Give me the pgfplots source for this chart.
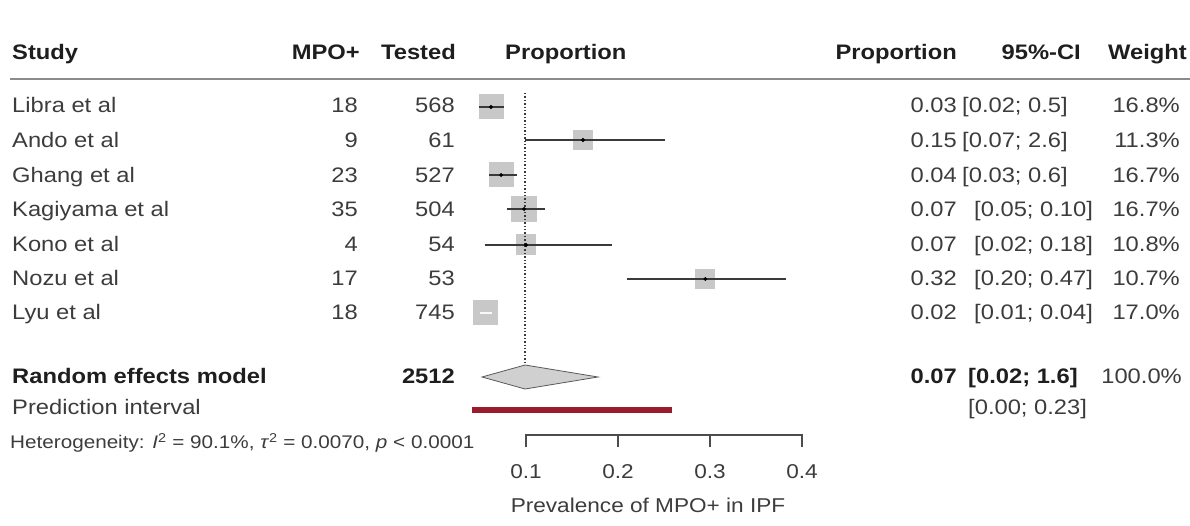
\documentclass[border=0pt]{standalone}
\usepackage{pgfplots}
\pgfplotsset{compat=1.18}
\usepackage{fontspec}
\setmainfont[FakeStretch=1.13]{Liberation Sans}
\definecolor{txt}{HTML}{3C3C3C}
\definecolor{hdr}{HTML}{1E1E1E}
\definecolor{sq}{HTML}{C8C8C8}
\definecolor{ci}{HTML}{3A3A3A}
\definecolor{pred}{HTML}{9A1B2B}
\definecolor{dia}{HTML}{D0D0D0}
\definecolor{rule}{HTML}{8C8C8C}
\tikzset{
  tx/.style={inner sep=0pt,text=txt,font=\fontsize{21}{25}\selectfont},
  hd/.style={inner sep=0pt,text=hdr,font=\fontsize{21}{25}\selectfont\bfseries},
}
\begin{document}
\begin{tikzpicture}
\path[use as bounding box] (0pt,0pt) rectangle (1190pt,526pt);
\begin{axis}[at={(0pt,0pt)},anchor=south west,scale only axis,
  width=1190pt,height=526pt,
  xmin=-0.47174,xmax=0.82174,ymin=0,ymax=526,y dir=reverse,
  hide axis,clip=false]
% squares (side in px converted to data units)
\addplot[fill=sq,draw=none] coordinates {(0.0484,94.5) (0.0756,94.5) (0.0756,119.5) (0.0484,119.5)} -- cycle;
\addplot[fill=sq,draw=none] coordinates {(0.1511,130) (0.1729,130) (0.1729,150) (0.1511,150)} -- cycle;
\addplot[fill=sq,draw=none] coordinates {(0.0594,162.5) (0.0866,162.5) (0.0866,187.5) (0.0594,187.5)} -- cycle;
\addplot[fill=sq,draw=none] coordinates {(0.0839,196) (0.1121,196) (0.1121,222) (0.0839,222)} -- cycle;
\addplot[fill=sq,draw=none] coordinates {(0.0886,234.5) (0.1114,234.5) (0.1114,255.5) (0.0886,255.5)} -- cycle;
\addplot[fill=sq,draw=none] coordinates {(0.2841,269) (0.3059,269) (0.3059,289) (0.2841,289)} -- cycle;
\addplot[fill=sq,draw=none] coordinates {(0.0429,300.5) (0.0701,300.5) (0.0701,325.5) (0.0429,325.5)} -- cycle;
% dotted reference line
\addplot[dotted,ci,line width=1.4pt] coordinates {(0.099,93) (0.099,365)};
% CI lines
\addplot[ci,line width=1.3pt] coordinates {(0.049,107) (0.076,107)};
\addplot[ci,line width=1.3pt] coordinates {(0.099,140) (0.251,140)};
\addplot[ci,line width=1.3pt] coordinates {(0.060,175) (0.090,175)};
\addplot[ci,line width=1.3pt] coordinates {(0.079,209) (0.121,209)};
\addplot[ci,line width=1.3pt] coordinates {(0.055,245) (0.193,245)};
\addplot[ci,line width=1.3pt] coordinates {(0.210,279) (0.383,279)};
\addplot[white!90!sq,line width=1.3pt] coordinates {(0.050,313) (0.063,313)};
% centre points
\addplot[only marks,mark=*,mark size=1.8pt,mark options={fill=black,draw=black}] coordinates {(0.062,107) (0.162,140) (0.073,175) (0.098,209) (0.100,245) (0.295,279)};
% diamond
\addplot[fill=dia,draw=gray!70!black,line width=0.8pt] coordinates {(0.0522,377) (0.099,365) (0.1783,377) (0.099,389)} -- cycle;
% prediction interval
\addplot[pred,line width=6pt] coordinates {(0.041,410) (0.259,410)};
% x axis
\addplot[gray!60!black,line width=1.2pt] coordinates {(0.1,447) (0.1,435) (0.4,435) (0.4,447)};
\addplot[gray!60!black,line width=1.2pt] coordinates {(0.2,435) (0.2,447)};
\addplot[gray!60!black,line width=1.2pt] coordinates {(0.3,435) (0.3,447)};
\end{axis}
% header rule
\draw[rule,line width=2pt] (10pt,447pt) -- (1190pt,447pt);
% headers
\node[hd,anchor=base west] at (12pt,466pt) {Study};
\node[hd,anchor=base east] at (360pt,466pt) {MPO+};
\node[hd,anchor=base east] at (456pt,466pt) {Tested};
\node[hd,anchor=base west] at (505pt,466pt) {Proportion};
\node[hd,anchor=base east] at (957pt,466pt) {Proportion};
\node[hd,anchor=base east] at (1081pt,466pt) {95\%-CI};
\node[hd,anchor=base east] at (1187pt,466pt) {Weight};
% study names
\node[tx,anchor=base west] at (12pt,413pt) {Libra et al};
\node[tx,anchor=base west] at (12pt,378pt) {Ando et al};
\node[tx,anchor=base west] at (12pt,343pt) {Ghang et al};
\node[tx,anchor=base west] at (12pt,309pt) {Kagiyama et al};
\node[tx,anchor=base west] at (12pt,274pt) {Kono et al};
\node[tx,anchor=base west] at (12pt,240pt) {Nozu et al};
\node[tx,anchor=base west] at (12pt,206pt) {Lyu et al};
% MPO+
\node[tx,anchor=base east] at (358pt,413pt) {18};
\node[tx,anchor=base east] at (358pt,378pt) {9};
\node[tx,anchor=base east] at (358pt,343pt) {23};
\node[tx,anchor=base east] at (358pt,309pt) {35};
\node[tx,anchor=base east] at (358pt,274pt) {4};
\node[tx,anchor=base east] at (358pt,240pt) {17};
\node[tx,anchor=base east] at (358pt,206pt) {18};
% Tested
\node[tx,anchor=base east] at (455pt,413pt) {568};
\node[tx,anchor=base east] at (455pt,378pt) {61};
\node[tx,anchor=base east] at (455pt,343pt) {527};
\node[tx,anchor=base east] at (455pt,309pt) {504};
\node[tx,anchor=base east] at (455pt,274pt) {54};
\node[tx,anchor=base east] at (455pt,240pt) {53};
\node[tx,anchor=base east] at (455pt,206pt) {745};
% proportion values
\node[tx,anchor=base east] at (957pt,413pt) {0.03};
\node[tx,anchor=base east] at (957pt,378pt) {0.15};
\node[tx,anchor=base east] at (957pt,343pt) {0.04};
\node[tx,anchor=base east] at (957pt,309pt) {0.07};
\node[tx,anchor=base east] at (957pt,274pt) {0.07};
\node[tx,anchor=base east] at (957pt,240pt) {0.32};
\node[tx,anchor=base east] at (957pt,206pt) {0.02};
% CI
\node[tx,anchor=base west] at (962pt,413pt) {[0.02; 0.5]};
\node[tx,anchor=base west] at (962pt,378pt) {[0.07; 2.6]};
\node[tx,anchor=base west] at (962pt,343pt) {[0.03; 0.6]};
\node[tx,anchor=base west] at (974pt,309pt) {[0.05; 0.10]};
\node[tx,anchor=base west] at (974pt,274pt) {[0.02; 0.18]};
\node[tx,anchor=base west] at (974pt,240pt) {[0.20; 0.47]};
\node[tx,anchor=base west] at (974pt,206pt) {[0.01; 0.04]};
% weights
\node[tx,anchor=base east] at (1180pt,413pt) {16.8\%};
\node[tx,anchor=base east] at (1180pt,378pt) {11.3\%};
\node[tx,anchor=base east] at (1180pt,343pt) {16.7\%};
\node[tx,anchor=base east] at (1180pt,309pt) {16.7\%};
\node[tx,anchor=base east] at (1180pt,274pt) {10.8\%};
\node[tx,anchor=base east] at (1180pt,240pt) {10.7\%};
\node[tx,anchor=base east] at (1180pt,206pt) {17.0\%};
% summary
\node[hd,anchor=base west] at (12pt,142pt) {Random effects model};
\node[hd,anchor=base east] at (455pt,142pt) {2512};
\node[hd,anchor=base east] at (957pt,142pt) {0.07};
\node[hd,anchor=base west] at (968pt,142pt) {[0.02; 1.6]};
\node[tx,anchor=base east] at (1182pt,142pt) {100.0\%};
\node[tx,anchor=base west] at (12pt,111pt) {Prediction interval};
\node[tx,anchor=base west] at (968pt,111pt) {[0.00; 0.23]};
\node[inner sep=0pt,text=txt,font=\fontsize{18.3}{21}\selectfont,anchor=base west] at (10pt,77pt)
  {Heterogeneity: \textit{I}\textsuperscript{2} = 90.1\%, \textit{τ}\textsuperscript{2} = 0.0070, \textit{p} \textless\ 0.0001};
% tick labels
\node[inner sep=0pt,text=txt,font=\fontsize{20}{24}\selectfont,anchor=base] at (526pt,47pt) {0.1};
\node[inner sep=0pt,text=txt,font=\fontsize{20}{24}\selectfont,anchor=base] at (618pt,47pt) {0.2};
\node[inner sep=0pt,text=txt,font=\fontsize{20}{24}\selectfont,anchor=base] at (710pt,47pt) {0.3};
\node[inner sep=0pt,text=txt,font=\fontsize{20}{24}\selectfont,anchor=base] at (802pt,47pt) {0.4};
\node[inner sep=0pt,text=txt,font=\fontsize{20}{24}\selectfont,anchor=base] at (648pt,13pt) {Prevalence of MPO+ in IPF};
\end{tikzpicture}
\end{document}
